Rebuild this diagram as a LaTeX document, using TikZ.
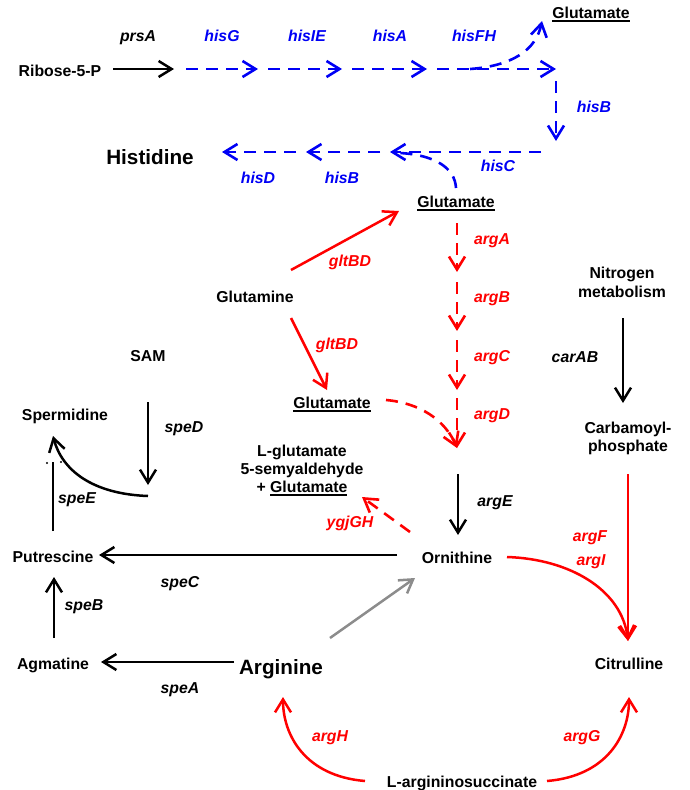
\documentclass[tikz,border=0pt]{standalone}
\usepackage{fontspec}
\setmainfont{Liberation Sans}
\usetikzlibrary{arrows.meta}
\definecolor{myblue}{RGB}{0,0,245}
\definecolor{myred}{RGB}{255,0,0}
\definecolor{mygray}{RGB}{140,140,140}
\newcommand\myul[1]{\setbox0=\hbox{#1}\leavevmode\vtop{\copy0\kern1.6pt\hrule height1.5pt width\wd0}}
\begin{document}
\begin{tikzpicture}[x=1pt,y=-1pt,
  lbl/.style={font=\fontsize{15.8}{18}\selectfont\bfseries, inner sep=0, text height=11.2pt, text depth=0pt},
  big/.style={font=\fontsize{20.7}{23}\selectfont\bfseries, inner sep=0, text height=14.8pt, text depth=0pt},
  enz/.style={lbl, font=\fontsize{15.8}{18}\selectfont\bfseries\itshape},
  benz/.style={enz, text=myblue},
  renz/.style={enz, text=myred},
  tip/.style={-{Straight Barb[length=13pt,width=16pt]}},
  blk/.style={line width=2.5pt, tip},
  bdash/.style={line width=2.6pt, myblue, dash pattern=on 12pt off 8pt, tip},
  rsol/.style={line width=2.5pt, myred, tip},
  rdash/.style={line width=2.6pt, myred, dash pattern=on 12pt off 8pt, tip},
  gry/.style={line width=2.5pt, mygray, tip},
  line join=round]
\useasboundingbox (0,0) rectangle (689,790);

% ---------- histidine part ----------
\node[lbl] (rib) at (60,71) {Ribose-5-P};
\node[enz] (prsA) at (138,36) {prsA};
\node[benz] (hisG) at (222,36) {hisG};
\node[benz] (hisIE) at (307,36) {hisIE};
\node[benz] (hisA) at (390,36) {hisA};
\node[benz] (hisFH) at (474,36) {hisFH};
\node[lbl] (gluT) at (591,13) {\myul{Glutamate}};
\node[benz] (hisB1) at (594,107) {hisB};
\node[benz] (hisC) at (498,166) {hisC};
\node[benz] (hisB2) at (342,178) {hisB};
\node[benz] (hisD) at (258,178) {hisD};
\node[big] (his) at (150,157) {Histidine};
\node[lbl] (gluM) at (456,202) {\myul{Glutamate}};

\coordinate (r1) at (113,69); \coordinate (r2) at (174,69);
\coordinate (h1) at (186,69); \coordinate (h2) at (258,69);
\coordinate (h3) at (268,69); \coordinate (h4) at (342,69);
\coordinate (h5) at (352,69); \coordinate (h6) at (427,69);
\coordinate (h7) at (437,69); \coordinate (h8) at (556,69);
\coordinate (c1) at (470,69); \coordinate (c2) at (542,21);
\coordinate (v1) at (556,81); \coordinate (v2) at (556,141);
\coordinate (b1) at (541,152); \coordinate (b2) at (390,152);
\coordinate (b3) at (380,152); \coordinate (b4) at (306,152);
\coordinate (b5) at (296,152); \coordinate (b6) at (222,152);
\coordinate (g1) at (456,188); \coordinate (g2) at (400,153);

\draw[blk] (r1) -- (r2);
\draw[bdash] (h1) -- (h2);
\draw[bdash] (h3) -- (h4);
\draw[bdash] (h5) -- (h6);
\draw[bdash] (h7) -- (h8);
\draw[bdash] (c1) .. controls (512,66) and (536,50) .. (c2);
\draw[bdash] (v1) -- (v2);
\draw[bdash] (b1) -- (b2);
\draw[bdash] (b3) -- (b4);
\draw[bdash] (b5) -- (b6);
\draw[line width=2.6pt, myblue, dash pattern=on 12pt off 8pt] (g1) .. controls (455,168) and (435,155) .. (g2);

% ---------- arginine part ----------
\node[renz] (argA) at (492,239) {argA};
\node[renz] (argB) at (492,297) {argB};
\node[renz] (argC) at (492,356) {argC};
\node[renz] (argD) at (492,414) {argD};
\node[lbl] (gln) at (255,297) {Glutamine};
\node[renz] (glt1) at (350,261) {gltBD};
\node[renz] (glt2) at (337,344) {gltBD};
\node[lbl] (gluL) at (332,403) {\myul{Glutamate}};
\node[lbl] (nit1) at (622,273) {Nitrogen};
\node[lbl] (nit2) at (622,292) {metabolism};
\node[enz] (carAB) at (575,357) {carAB};
\node[lbl] (carb1) at (628,428) {Carbamoyl-};
\node[lbl] (carb2) at (628,446) {phosphate};
\node[lbl] (lg1) at (302,451) {L-glutamate};
\node[lbl] (lg2) at (302,469) {5-semyaldehyde};
\node[lbl] (lg3) at (302,487) {+ \myul{Glutamate}};
\node[renz] (ygj) at (350,522) {ygjGH};
\node[enz] (argE) at (495,501) {argE};
\node[lbl] (orn) at (457,558) {Ornithine};
\node[renz] (argF) at (590,536) {argF};
\node[renz] (argI) at (591,560) {argI};
\node[lbl] (cit) at (629,664) {Citrulline};
\node[big] (arg) at (281,667) {Arginine};
\node[lbl] (succ) at (462,782) {L-argininosuccinate};
\node[renz] (argH) at (330,736) {argH};
\node[renz] (argG) at (582,736) {argG};

\coordinate (q1) at (291,270); \coordinate (q2) at (399,211);
\coordinate (q3) at (291,318); \coordinate (q4) at (327,390);
\coordinate (d1) at (457,223); \coordinate (d2) at (457,272);
\coordinate (d3) at (457,282); \coordinate (d4) at (457,331);
\coordinate (d5) at (457,340); \coordinate (d6) at (457,390);
\coordinate (d7) at (457,398); \coordinate (d8) at (457,448);
\coordinate (e1) at (386,400);
\coordinate (n1) at (623,318); \coordinate (n2) at (623,403);
\coordinate (k1) at (628,474); \coordinate (k2) at (628,641);
\coordinate (o1) at (507,557);
\coordinate (ae1) at (458,474); \coordinate (ae2) at (458,535);
\coordinate (y1) at (410,532); \coordinate (y2) at (362,497);
\coordinate (s1) at (365,781); \coordinate (s2) at (283,697);
\coordinate (s3) at (547,781); \coordinate (s4) at (629,697);
\coordinate (gr1) at (330,638); \coordinate (gr2) at (415,578);

\draw[rsol] (q1) -- (q2);
\draw[rsol] (q3) -- (q4);
\draw[rdash] (d1) -- (d2);
\draw[rdash] (d3) -- (d4);
\draw[rdash] (d5) -- (d6);
\draw[rdash] (d7) -- (d8);
\draw[rdash] (e1) .. controls (420,403) and (445,420) .. (d8);
\draw[blk] (n1) -- (n2);
\draw[rsol] (k1) -- (k2);
\draw[rsol] (o1) .. controls (570,559) and (622,590) .. (k2);
\draw[blk] (ae1) -- (ae2);
\draw[rdash] (y1) -- (y2);
\draw[rsol] (s1) .. controls (305,776) and (283,735) .. (s2);
\draw[rsol] (s3) .. controls (607,776) and (629,735) .. (s4);
\draw[gry] (gr1) -- (gr2);

% ---------- polyamine part ----------
\node[lbl] (sam) at (148,356) {SAM};
\node[enz] (speD) at (184,427) {speD};
\node[lbl] (sperm) at (65,415) {Spermidine};
\node[enz] (speE) at (77,498) {speE};
\node[lbl] (put) at (53,557) {Putrescine};
\node[enz] (speC) at (180,582) {speC};
\node[lbl] (agm) at (53,664) {Agmatine};
\node[enz] (speA) at (180,688) {speA};
\node[enz] (speB) at (84,605) {speB};

\coordinate (sd1) at (148,402); \coordinate (sd2) at (148,485);
\coordinate (se1) at (148,496); \coordinate (se2) at (53,436);
\coordinate (pv1) at (53,531); \coordinate (pv2) at (53,462);
\coordinate (sc1) at (397,555); \coordinate (sc2) at (99,555);
\coordinate (sb1) at (54,638); \coordinate (sb2) at (54,577);
\coordinate (sa1) at (234,662); \coordinate (sa2) at (101,662);
\coordinate (m1) at (47,463); \coordinate (m2) at (61,462);

\draw[blk] (sd1) -- (sd2);
\draw[blk] (se1) .. controls (92,494) and (62,470) .. (se2);
\draw[line width=2.5pt] (pv1) -- (pv2);
\draw[blk] (sc1) -- (sc2);
\draw[blk] (sb1) -- (sb2);
\draw[blk] (sa1) -- (sa2);
\fill (m1) circle (1.2pt);
\fill (m2) circle (1.2pt);
\end{tikzpicture}
\end{document}
